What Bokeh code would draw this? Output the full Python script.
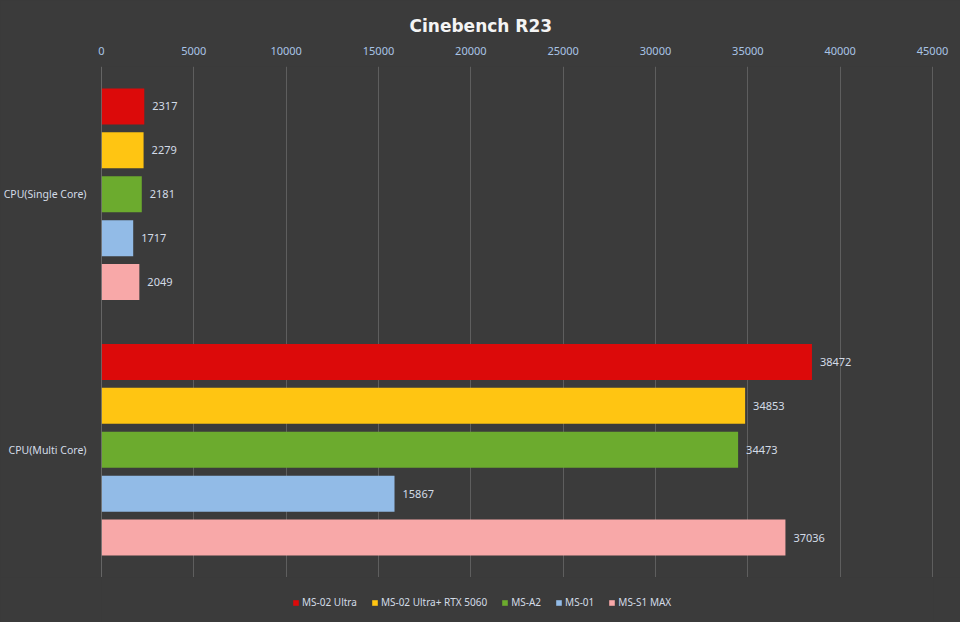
from bokeh.plotting import figure
from bokeh.models import FactorRange, Range1d, ColumnDataSource, Span, Legend, LegendItem, FixedTicker, NumeralTickFormatter
from bokeh.layouts import column
from bokeh.transform import dodge
from bokeh.core.properties import value
from bokeh.embed import file_html
from bokeh.resources import INLINE

cats = ["CPU(Single Core)", "CPU(Multi Core)"]
series = ["MS-02 Ultra", "MS-02 Ultra+ RTX 5060", "MS-A2", "MS-01", "MS-S1 MAX"]
ms02_ultra = [2317, 38472]
ms02_rtx = [2279, 34853]
ms_a2 = [2181, 34473]
ms_01 = [1717, 15867]
ms_s1 = [2049, 37036]
ticks = [0, 5000, 10000, 15000, 20000, 25000, 30000, 35000, 40000, 45000]

colors = ["#dc0a0a", "#ffc512", "#6cab2e", "#92bbe7", "#f8a8a8"]
offsets = [0.3435, 0.1718, 0.0, -0.1718, -0.3435]
font = "Noto Sans"
label_col = "#d3dbe7"
bg = "#3b3b3b"

# range ends a hair past 45000 so the last grid line stays visible
p = figure(y_range=FactorRange(factors=cats[::-1]), x_range=Range1d(0, 45054),
           x_axis_location="above", frame_width=832, frame_height=511,
           min_border_left=101, min_border_right=27, min_border_top=66, min_border_bottom=0,
           output_backend="svg", toolbar_location=None, title="Cinebench R23")

p.background_fill_color = bg
p.border_fill_color = bg
p.outline_line_color = None
p.styles = {"background-color": bg}

p.title.text_color = "#f4f4f4"
p.title.text_font = "DejaVu Sans"
p.title.text_font_size = "17px"
p.title.text_font_style = "bold"
p.title.align = "left"
p.title.offset = 308
p.title.standoff = 16

p.xaxis.ticker = FixedTicker(ticks=ticks)
p.xaxis.formatter = NumeralTickFormatter(format="0")
p.xaxis.axis_line_color = None
p.xaxis.major_tick_line_color = None
p.xaxis.minor_tick_line_color = None
p.xaxis.major_label_text_color = "#a9c4e6"
p.xaxis.major_label_text_font = font
p.xaxis.major_label_text_font_size = "11px"
p.xaxis.major_label_standoff = 6

p.yaxis.axis_line_color = None
p.yaxis.major_tick_line_color = None
p.yaxis.major_label_text_color = label_col
p.yaxis.major_label_text_font = font
p.yaxis.major_label_text_font_size = "10.5px"
p.yaxis.major_label_standoff = 9

p.xgrid.grid_line_color = "#5e5e5e"
p.ygrid.grid_line_color = None

# small strip under the chart that only carries the legend
lg = figure(x_range=Range1d(0, 45054), y_range=FactorRange(factors=cats[::-1]),
            width=960, height=45, min_border=0, x_axis_type=None, y_axis_type=None,
            output_backend="svg", toolbar_location=None)
lg.background_fill_color = bg
lg.border_fill_color = bg
lg.outline_line_color = None
lg.grid.grid_line_color = None
lg.styles = {"background-color": bg}

items = []
for name, vals, col, off in zip(series, [ms02_ultra, ms02_rtx, ms_a2, ms_01, ms_s1], colors, offsets):
    src = ColumnDataSource(dict(cat=cats, val=vals, txt=[str(v) for v in vals]))
    yy = dodge("cat", off, range=p.y_range)
    p.hbar(y=yy, right="val", left=0, height=0.141, source=src,
           fill_color=col, line_color=None)
    p.text(x="val", y=yy, text="txt", source=src, x_offset=8,
           text_baseline="middle", text_align="left", text_color=label_col,
           text_font=value(font), text_font_size="11px")
    r = lg.hbar(y="cat", right="val", left=0, height=0.141, source=src,
                fill_color=col, line_color=None, visible=False)
    items.append(LegendItem(label=name, renderers=[r]))

p.add_layout(Span(location=0, dimension="height", line_color="#8f8f8f", line_width=1))

legend = Legend(items=items, orientation="horizontal", location=(191, 13))
legend.background_fill_alpha = 0
legend.border_line_color = None
legend.inactive_fill_alpha = 0
legend.label_text_color = label_col
legend.label_text_font = font
legend.label_text_font_size = "10px"
legend.label_height = 12
legend.glyph_width = 7
legend.glyph_height = 7
legend.label_standoff = 3
legend.spacing = 14
legend.padding = 0
legend.margin = 0
lg.add_layout(legend)

layout = column(p, lg, spacing=0, styles={"background-color": bg})
open("out.html", "w").write(file_html(layout, INLINE))
